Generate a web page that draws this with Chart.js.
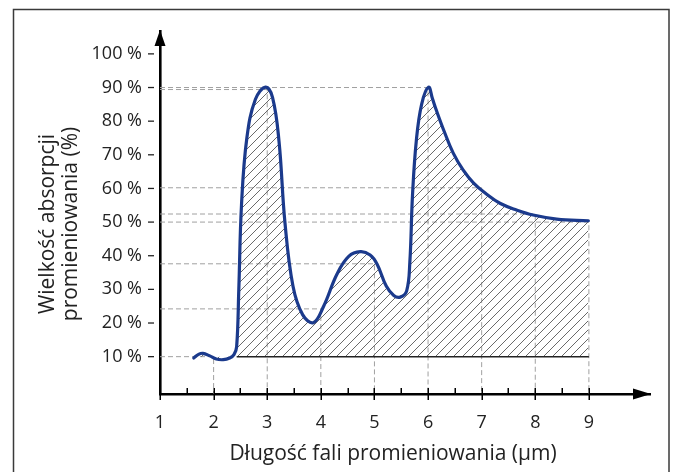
<!DOCTYPE html>
<html><head><meta charset="utf-8">
<script src="https://cdn.jsdelivr.net/npm/chart.js@4/dist/chart.umd.min.js"></script>
<style>html,body{margin:0;padding:0;background:#fff}#wrap{width:676px;height:472px;position:relative}</style>
</head><body><div id="wrap"><canvas id="c" width="676" height="472"></canvas></div>
<script>
// ---- data ----
const wavelength = [1.63,1.72,1.80,1.92,2.05,2.18,2.30,2.38,2.43,2.47,2.52,2.62,2.78,2.97,
  3.10,3.22,3.33,3.48,3.66,3.86,4.05,4.30,4.52,4.74,4.92,5.05,5.22,5.36,5.48,5.60,
  5.66,5.71,5.78,5.88,6.01,6.08,6.16,6.30,6.47,6.65,6.85,7.10,7.34,7.65,7.96,8.40,8.99];
const absorption = [9.6,10.7,11.0,10.3,9.3,9.1,9.6,10.6,13,30,55,75,86.5,90.1,
  87,74,50,31,22.5,20.1,24.9,34.5,39.8,41.2,40.2,37.5,31,28.2,27.7,29.5,
  38,58,74,85,90.1,86.8,83,77,70.5,65.6,61.6,58.2,55.6,53.6,52.1,50.9,50.4];
const xTickValues = [1,2,3,4,5,6,7,8,9];
const yTickValues = [10,20,30,40,50,60,70,80,90,100];
const dropX = [2,3,4,5,6,7,8,9];
const dropY = [10,89.4,24.2,37.6,90,60.2,52.4,50.0];
const baselineX = [2.43,9];
const baselineY = [10,10];
const xTitle = 'Długość fali promieniowania (μm)';
const yTitle = ['Wielkość absorpcji','promieniowania (%)'];
const xMin = 1, xMax = 10.14, yMin = -1.1, yMax = 106.8;

// ---- hatch pattern ----
function hatch(){
  const s = 9, p = document.createElement('canvas'); p.width = s; p.height = s;
  const c = p.getContext('2d');
  c.strokeStyle = '#6a6a6a'; c.lineWidth = 1;
  c.beginPath();
  c.moveTo(-1, s+1); c.lineTo(s+1, -1);
  c.moveTo(-1, 1); c.lineTo(1, -1);
  c.moveTo(s-1, s+1); c.lineTo(s+1, s-1);
  c.stroke();
  return c.createPattern(p, 'repeat');
}

const curve = wavelength.map((x,i)=>({x, y: absorption[i]}));
const dropSets = dropX.map((x,i)=>({
  data: [{x: xMin, y: dropY[i]}, {x, y: dropY[i]}, {x, y: yMin}],
  borderColor: '#a0a0a0', borderWidth: 1, borderDash: [5,3], pointRadius: 0,
  tension: 0, fill: false, order: 3, showLine: true
}));

const decor = {
  id: 'decor',
  beforeDraw(chart){
    const ctx = chart.ctx;
    ctx.save();
    ctx.fillStyle = '#fff'; ctx.fillRect(0,0,chart.width,chart.height);
    ctx.strokeStyle = '#3a3a3a'; ctx.lineWidth = 1.5;
    ctx.strokeRect(13.5, 9.5, 655.5, 520);
    ctx.restore();
  },
  afterDraw(chart){
    const ctx = chart.ctx, xs = chart.scales.x, ys = chart.scales.y;
    const ax = xs.getPixelForValue(xMin), ay = ys.getPixelForValue(yMin);
    ctx.save();
    ctx.fillStyle = '#000'; ctx.strokeStyle = '#000';
    const tx = xs.getPixelForValue(xMax), ty = ys.getPixelForValue(yMax);
    ctx.beginPath(); ctx.moveTo(tx+1, ay); ctx.lineTo(tx-17, ay-5.5); ctx.lineTo(tx-17, ay+5.5); ctx.closePath(); ctx.fill();
    ctx.beginPath(); ctx.moveTo(ax, ty-1); ctx.lineTo(ax-5.5, ty+15); ctx.lineTo(ax+5.5, ty+15); ctx.closePath(); ctx.fill();
    ctx.lineWidth = 1.5;
    xTickValues.forEach((v,i)=>{
      const px = Math.round(xs.getPixelForValue(v))+0.25;
      ctx.beginPath(); ctx.moveTo(px, ay-6); ctx.lineTo(px, ay+6); ctx.stroke();
      if (i < xTickValues.length-1){
        const mx = Math.round(xs.getPixelForValue(v+0.5))+0.25;
        ctx.beginPath(); ctx.moveTo(mx, ay-6); ctx.lineTo(mx, ay); ctx.stroke();
      }
    });
    ctx.strokeStyle = '#222'; ctx.lineWidth = 1.3;
    yTickValues.forEach(v=>{
      const py = ys.getPixelForValue(v);
      ctx.beginPath(); ctx.moveTo(ax-12, py); ctx.lineTo(ax-6, py); ctx.stroke();
    });
    ctx.fillStyle = '#222';
    ctx.font = '21px "Open Sans"';
    ctx.textAlign = 'center'; ctx.textBaseline = 'alphabetic';
    ctx.fillText(xTitle, 393, 460);
    ctx.translate(0, 224); ctx.rotate(-Math.PI/2);
    ctx.fillText(yTitle[0], 0, 53.5);
    ctx.fillText(yTitle[1], 0, 77);
    ctx.restore();
  }
};

new Chart(document.getElementById('c'), {
  type: 'scatter',
  data: { datasets: [
    { data: curve, showLine: true, borderColor: '#1b3a8c', borderWidth: 3.2, pointRadius: 0,
      tension: 0.4, borderCapStyle: 'round', borderJoinStyle: 'round',
      fill: {value: 10}, backgroundColor: hatch(), order: 1 },
    { data: baselineX.map((x,i)=>({x, y: baselineY[i]})), showLine: true, borderColor: '#222', borderWidth: 1.5,
      pointRadius: 0, fill: false, order: 0 },
    ...dropSets
  ]},
  options: {
    responsive: false, animation: false, devicePixelRatio: 1,
    layout: { padding: { top: 31, right: 26, left: 0, bottom: 0 } },
    plugins: { legend: {display:false}, tooltip: {enabled:false} },
    scales: {
      x: { type: 'linear', min: xMin, max: xMax,
        afterBuildTicks(s){ s.ticks = xTickValues.map(v=>({value:v})); },
        afterFit(s){ s.height = 78; },
        grid: { display: false, drawTicks: false },
        border: { display: true, color: '#000', width: 2.6 },
        ticks: { padding: 18, color: '#222', font: { family: 'Open Sans', size: 18 }, maxRotation: 0,
          callback: v => String(v) } },
      y: { type: 'linear', min: yMin, max: yMax,
        afterBuildTicks(s){ s.ticks = yTickValues.map(v=>({value:v})); },
        afterFit(s){ s.width = 160; },
        grid: { display: false, drawTicks: false },
        border: { display: true, color: '#000', width: 2.6 },
        ticks: { padding: 18, color: '#222', font: { family: 'Open Sans', size: 18 },
          callback: v => v + ' %' } }
    }
  },
  plugins: [decor]
});
</script></body></html>
